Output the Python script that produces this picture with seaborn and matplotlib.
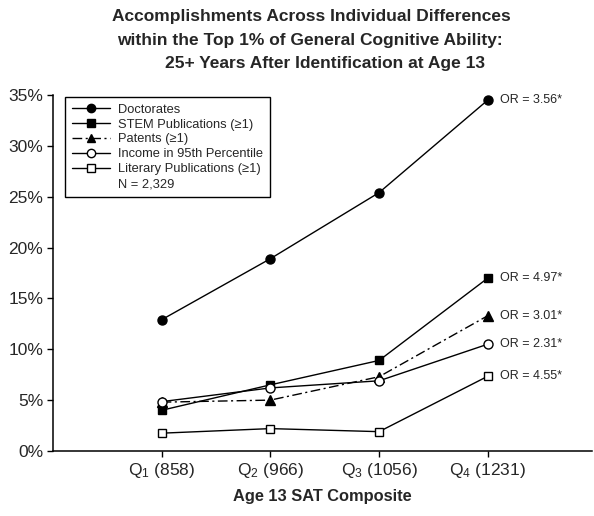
import matplotlib
matplotlib.use("Agg")
import matplotlib.pyplot as plt
import seaborn as sns
import pandas as pd
from matplotlib.lines import Line2D

# -----------------------------------------------------------------
# Datos (porcentaje por cuartil de SAT a los 13 años)
# -----------------------------------------------------------------
quartiles = [0, 1, 2, 3]
tick_labels = [r"$\mathregular{Q_1}$ (858)", r"$\mathregular{Q_2}$ (966)",
               r"$\mathregular{Q_3}$ (1056)", r"$\mathregular{Q_4}$ (1231)"]

doctorates = [12.9, 18.9, 25.4, 34.5]
stem_pubs = [4.0, 6.5, 8.9, 17.0]
patents = [4.8, 5.0, 7.3, 13.3]
income_95 = [4.85, 6.2, 6.9, 10.5]
literary_pubs = [1.75, 2.2, 1.9, 7.35]

series_names = ["Doctorates", "STEM Publications (≥1)", "Patents (≥1)",
                "Income in 95th Percentile", "Literary Publications (≥1)"]
odds_ratios = ["OR = 3.56*", "OR = 4.97*", "OR = 3.01*", "OR = 2.31*", "OR = 4.55*"]

# -----------------------------------------------------------------
# Estilo
# -----------------------------------------------------------------
sns.set_theme(style="ticks")
plt.rcParams["font.family"] = ["Liberation Sans", "DejaVu Sans"]
plt.rcParams["mathtext.fontset"] = "custom"
plt.rcParams["mathtext.rm"] = "Liberation Sans"

styles = [
    dict(marker="o", mfc="black", ls="-", ms=6.5),
    dict(marker="s", mfc="black", ls="-", ms=6.0),
    dict(marker="^", mfc="black", ls=(0, (7, 2.5, 1.5, 2.5)), ms=6.5),
    dict(marker="o", mfc="white", ls="-", ms=6.5),
    dict(marker="s", mfc="white", ls="-", ms=6.0),
]
all_values = [doctorates, stem_pubs, patents, income_95, literary_pubs]

fig = plt.figure(figsize=(5.94, 5.16), dpi=100)
ax = fig.add_axes([0.089, 0.126, 0.908, 0.690])

handles = []
for name, vals, st in zip(series_names, all_values, styles):
    df = pd.DataFrame({"q": quartiles, "pct": vals})
    sns.lineplot(data=df, x="q", y="pct", ax=ax, color="black", lw=1.0,
                 marker=st["marker"], markersize=st["ms"], markerfacecolor=st["mfc"],
                 markeredgecolor="black", markeredgewidth=1.0, linestyle=st["ls"])
    handles.append(Line2D([], [], color="black", lw=1.0, marker=st["marker"],
                          markersize=st["ms"] - 0.5, markerfacecolor=st["mfc"],
                          markeredgecolor="black", linestyle=st["ls"], label=name))

# Etiquetas OR al final de cada serie
for vals, txt in zip(all_values, odds_ratios):
    ax.annotate(txt, xy=(quartiles[-1], vals[-1]), xytext=(9, 0),
                textcoords="offset points", va="center", ha="left", fontsize=9)

# Fila extra "N = 2,329" en la leyenda
handles.append(Line2D([], [], color="none", label="N = 2,329"))
leg = ax.legend(handles=handles, loc="upper left", bbox_to_anchor=(0.011, 1.012),
                fontsize=9.3, frameon=True, fancybox=False, edgecolor="black",
                framealpha=1, handlelength=3.0, labelspacing=0.22,
                borderpad=0.5, handletextpad=0.6)
leg.get_frame().set_linewidth(1.0)

ax.set_xlim(-1.0, 3.96)
ax.set_ylim(0, 35)
ax.set_yticks(range(0, 36, 5))
ax.set_yticklabels([f"{v}%" for v in range(0, 36, 5)], fontsize=12.5)
ax.set_xticks(quartiles)
ax.set_xticklabels(tick_labels, fontsize=12.5)
ax.set_xlabel("Age 13 SAT Composite", fontsize=11.8, fontweight="bold", labelpad=7)
ax.set_ylabel("")
ax.tick_params(axis="both", direction="out", length=4, width=1, color="black", pad=3)
for s in ["left", "bottom"]:
    ax.spines[s].set_linewidth(1.1)
    ax.spines[s].set_color("black")
sns.despine(ax=ax)

fig.text(0.525, 0.968, "Accomplishments Across Individual Differences",
         ha="center", va="center", fontsize=12.5, fontweight="bold")
fig.text(0.522, 0.922, "within the Top 1% of General Cognitive Ability:",
         ha="center", va="center", fontsize=12.5, fontweight="bold")
fig.text(0.547, 0.877, "25+ Years After Identification at Age 13",
         ha="center", va="center", fontsize=12.5, fontweight="bold")

fig.savefig("out.png", dpi=100)
